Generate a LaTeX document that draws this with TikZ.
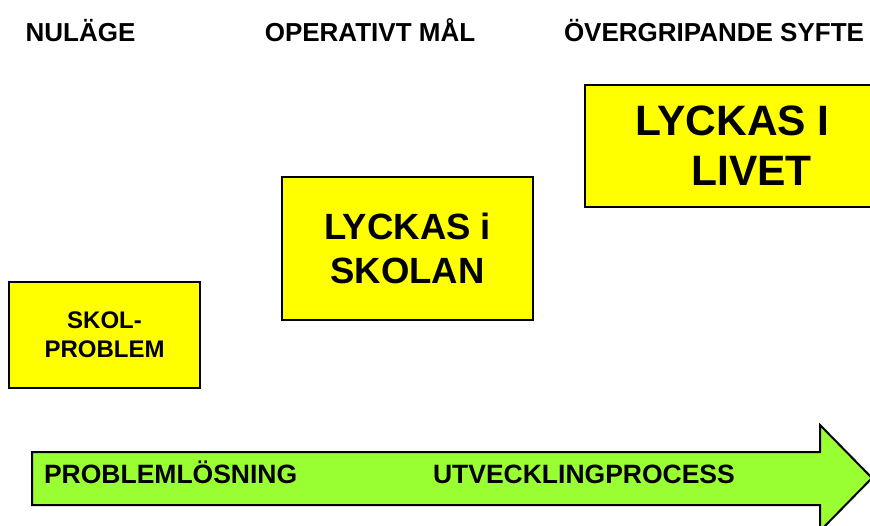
\documentclass[tikz,border=0pt]{standalone}
\usepackage{fontspec}
\setmainfont{Liberation Sans}

\definecolor{boxyellow}{RGB}{255,255,0}
\definecolor{arrowgreen}{RGB}{153,255,51}

\begin{document}
\begin{tikzpicture}[x=1pt,
					y=-1pt,
					line width=2pt,
					head node/.style={anchor=base,inner sep=0pt,font=\bfseries\fontsize{26}{31}\selectfont},
					box node/.style={rectangle,draw=black,fill=boxyellow,align=center,inner sep=0pt},
					lane text/.style={anchor=base west,inner sep=0pt,font=\bfseries\fontsize{26.5}{31}\selectfont}]

  \clip (0,0) rectangle (870,526);

  % rubriker
  \node[head node] (nulage) at (80.5,42) {NULÄGE};
  \node[head node] (operativt) at (370,42) {OPERATIVT MÅL};
  \node[head node] (syfte) at (714,42) {ÖVERGRIPANDE SYFTE};

  % rutor
  \node[box node,minimum width=191pt,minimum height=106pt,
        font=\bfseries\fontsize{24}{29}\selectfont] (skolproblem) at (104.5,335) {SKOL-\\PROBLEM};
  \node[box node,minimum width=251pt,minimum height=143pt,
        font=\bfseries\fontsize{36.5}{44}\selectfont] (skolan) at (407.5,248.5) {LYCKAS i\\SKOLAN};
  \node[box node,minimum width=295pt,minimum height=122pt,
        font=\bfseries\fontsize{42.5}{50}\selectfont] (livet) at (732.5,146) {LYCKAS I\\\hspace*{0.9em}LIVET};

  % pil
  \draw[fill=arrowgreen,line join=miter]
    (32,452) -- (820,452) -- (820,425) -- (872,478) -- (820,531)
    -- (820,505) -- (32,505) -- cycle;
  \node[lane text] (losning) at (43,483) {PROBLEMLÖSNING};
  \node[lane text] (process) at (432,483) {UTVECKLINGPROCESS};
\end{tikzpicture}
\end{document}
